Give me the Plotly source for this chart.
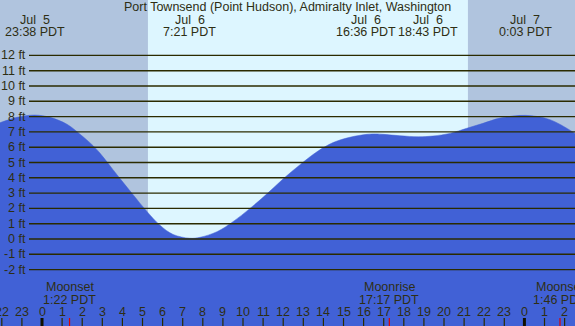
import plotly.graph_objects as go

# ---- data (hours relative to Jul 6 00:00 PDT, heights in ft) ----
hours = [-2.09, -1.24, -0.37, 0.40, 1.24, 1.89, 2.54, 2.89, 3.73, 4.53, 5.22, 5.87,
         6.52, 7.35, 7.86, 8.71, 9.50, 10.35, 11.19, 11.99, 12.84, 13.68, 14.48,
         15.32, 16.17, 16.60, 16.97, 17.81, 18.72, 19.45, 20.30, 21.14, 21.94,
         22.79, 24.05, 25.27, 26.52]
heights = [7.6, 7.95, 8.1, 7.95, 7.5, 6.85, 6.1, 5.6, 4.2, 2.9, 1.8, 0.9,
           0.3, 0.05, 0.11, 0.48, 1.13, 2.0, 2.95, 3.92, 4.86, 5.7, 6.3,
           6.65, 6.84, 6.87, 6.84, 6.75, 6.68, 6.73, 6.9, 7.24, 7.56,
           7.9, 8.08, 7.8, 6.9]

event_hours = [-0.37, 7.35, 16.60, 18.72, 24.05]
event_dates = ["Jul\u00a0 5", "Jul\u00a0 6", "Jul\u00a0 6", "Jul\u00a0 6", "Jul\u00a0 7"]
event_times = ["23:38 PDT", "7:21 PDT", "16:36 PDT", "18:43 PDT", "0:03 PDT"]
event_shift = [0, 0, -10, 10, 0]

moon_hours = [1.37, 17.28, 25.77]
moon_names = ["Moonset", "Moonrise", "Moonset"]
moon_times = ["1:22 PDT", "17:17 PDT", "1:46 PDT"]

sunrise = 5.27
sunset = 21.19

ft_levels = list(range(-2, 13))
ft_labels = [f"{v} ft" for v in ft_levels]

hour_ticks = list(range(-2, 27))
hour_labels = [str(h % 24) for h in hour_ticks]

title = "Port Townsend (Point Hudson), Admiralty Inlet, Washington"

# ---- styling ----
X_RANGE = [-2.09, 26.517]
Y_RANGE = [-5.686, 15.62]
TEXT = "#2e2e14"
GRID = "#2b2b00"
DAY = "#ddf6ff"
NIGHT = "#b0c4de"
WATER = "#4161d6"
FONT = "Liberation Sans, Arial, sans-serif"
FS = 12.5

fig = go.Figure()

# baseline for fill
fig.add_trace(go.Scatter(x=[X_RANGE[0], X_RANGE[1]], y=[Y_RANGE[0], Y_RANGE[0]],
                         mode="lines", line=dict(width=0), hoverinfo="skip",
                         showlegend=False))
fig.add_trace(go.Scatter(x=hours, y=heights, mode="lines", fill="tonexty",
                         fillcolor=WATER,
                         line=dict(color=WATER, width=0.5, shape="spline", smoothing=1.0),
                         showlegend=False))

shapes = []
# night shading
shapes.append(dict(type="rect", xref="x", yref="paper", x0=X_RANGE[0], x1=sunrise,
                   y0=0, y1=1, fillcolor=NIGHT, line=dict(width=0), layer="below"))
shapes.append(dict(type="rect", xref="x", yref="paper", x0=sunset, x1=X_RANGE[1],
                   y0=0, y1=1, fillcolor=NIGHT, line=dict(width=0), layer="below"))
# grid lines
for v in ft_levels:
    shapes.append(dict(type="line", xref="paper", yref="y", x0=29 / 575, x1=1,
                       y0=v, y1=v, line=dict(color=GRID, width=1.4), layer="above"))
# hour ticks
for h in hour_ticks:
    mid = (h % 24 == 0)
    shapes.append(dict(type="line", xref="x", yref="paper", x0=h, x1=h,
                       y0=0, y1=8 / 326,
                       line=dict(color="#111100" if mid else GRID, width=3 if mid else 1.2),
                       layer="above"))
for h in moon_hours:
    shapes.append(dict(type="line", xref="x", yref="paper", x0=h, x1=h,
                       y0=0, y1=8 / 326, line=dict(color="#e00000", width=1.2),
                       layer="above"))

ann = []
ann.append(dict(text=title, xref="paper", yref="paper", x=287 / 575, y=1 - 7 / 326,
                showarrow=False, xanchor="center", yanchor="middle",
                font=dict(family=FONT, size=FS, color=TEXT)))
for h, d, t, s in zip(event_hours, event_dates, event_times, event_shift):
    ann.append(dict(text=d, xref="x", yref="paper", x=h, y=1 - 20 / 326, xshift=s,
                    showarrow=False, xanchor="center", yanchor="middle",
                    font=dict(family=FONT, size=FS, color=TEXT)))
    ann.append(dict(text=t, xref="x", yref="paper", x=h, y=1 - 32 / 326, xshift=s,
                    showarrow=False, xanchor="center", yanchor="middle",
                    font=dict(family=FONT, size=FS, color=TEXT)))
for h, n, t in zip(moon_hours, moon_names, moon_times):
    ann.append(dict(text=n, xref="x", yref="paper", x=h, y=1 - 287 / 326,
                    showarrow=False, xanchor="center", yanchor="middle",
                    font=dict(family=FONT, size=FS, color=TEXT)))
    ann.append(dict(text=t, xref="x", yref="paper", x=h, y=1 - 299.5 / 326,
                    showarrow=False, xanchor="center", yanchor="middle",
                    font=dict(family=FONT, size=FS, color=TEXT)))
for v, lab in zip(ft_levels, ft_labels):
    ann.append(dict(text=lab, xref="paper", yref="y", x=27.5 / 575, y=v,
                    showarrow=False, xanchor="right", yanchor="middle",
                    font=dict(family=FONT, size=FS, color=TEXT)))
for h, lab in zip(hour_ticks, hour_labels):
    ann.append(dict(text=lab, xref="x", yref="paper", x=h, y=1 - 311.5 / 326,
                    showarrow=False, xanchor="center", yanchor="middle",
                    font=dict(family=FONT, size=FS, color=TEXT)))

fig.update_layout(
    width=575, height=326,
    margin=dict(l=0, r=0, t=0, b=0, pad=0, autoexpand=False),
    paper_bgcolor=DAY, plot_bgcolor=DAY,
    xaxis=dict(range=X_RANGE, visible=False, fixedrange=True),
    yaxis=dict(range=Y_RANGE, visible=False, fixedrange=True),
    shapes=shapes, annotations=ann, showlegend=False,
)

fig.write_html("out.html", config={"displayModeBar": False},
               post_script="document.body.style.margin='0';document.body.style.overflow='hidden';")
